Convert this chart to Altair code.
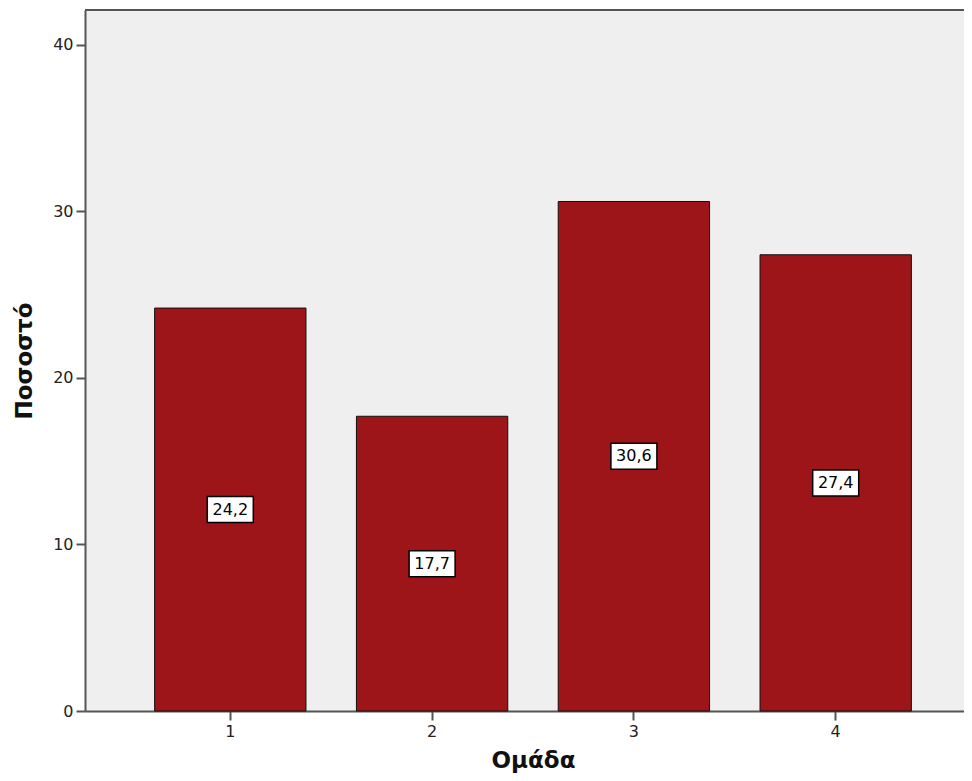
import altair as alt
import pandas as pd

groups = ["1", "2", "3", "4"]
values = [24.2, 17.7, 30.6, 27.4]
labels = ["24,2", "17,7", "30,6", "27,4"]
y_ticks = [0, 10, 20, 30, 40]

df = pd.DataFrame({"group": groups, "value": values, "label": labels})

W, H = 879, 701
FONT = "DejaVu Sans"

xscale = alt.Scale(domain=groups, range=[0, 896], paddingInner=0.25, paddingOuter=0.345)
yscale = alt.Scale(domain=[0, 42.1], nice=False, zero=True)

base = alt.Chart(df)

bars = base.mark_bar(color="#9d1519", stroke="#111111", strokeWidth=1).encode(
    x=alt.X("group:N", scale=xscale, sort=groups,
            axis=alt.Axis(title="Ομάδα", labelAngle=0, titleX=448, titleY=56,
                          titleBaseline="alphabetic")),
    y=alt.Y("value:Q", scale=yscale,
            axis=alt.Axis(title="Ποσοστό", values=y_ticks, grid=False, titlePadding=16)),
)

boxes = base.transform_calculate(mid="datum.value / 2").mark_point(
    shape="M-1,-0.565H1V0.565H-1Z", filled=True, fill="white", stroke="black",
    strokeWidth=1.5, size=2116, opacity=1
).encode(
    x=alt.X("group:N", scale=xscale, sort=groups),
    y=alt.Y("mid:Q", scale=yscale),
)

texts = base.transform_calculate(mid="datum.value / 2").mark_text(
    font=FONT, fontSize=16, color="black", baseline="middle", align="center"
).encode(
    x=alt.X("group:N", scale=xscale, sort=groups),
    y=alt.Y("mid:Q", scale=yscale),
    text="label:N",
)

top = alt.Chart(df).mark_rule(color="#555555", strokeWidth=2).encode(
    x=alt.value(0), x2=alt.value(W), y=alt.value(0)
)

chart = alt.layer(bars, boxes, texts, top).properties(
    width=W, height=H,
    autosize=alt.AutoSizeParams(type="none"),
    padding={"left": 77, "top": 2, "right": 0, "bottom": 62},
).configure_view(
    fill="#efefef", stroke=None
).configure_axis(
    domainColor="#555555", domainWidth=2, tickColor="#555555", tickWidth=2,
    tickSize=9, labelFont=FONT, labelFontSize=16, labelColor="#222222",
    labelPadding=3, titleFont=FONT, titleFontSize=23, titleFontWeight="bold",
    titleColor="#111111"
)

chart.save("out.html", embed_options={"renderer": "svg", "actions": False})
